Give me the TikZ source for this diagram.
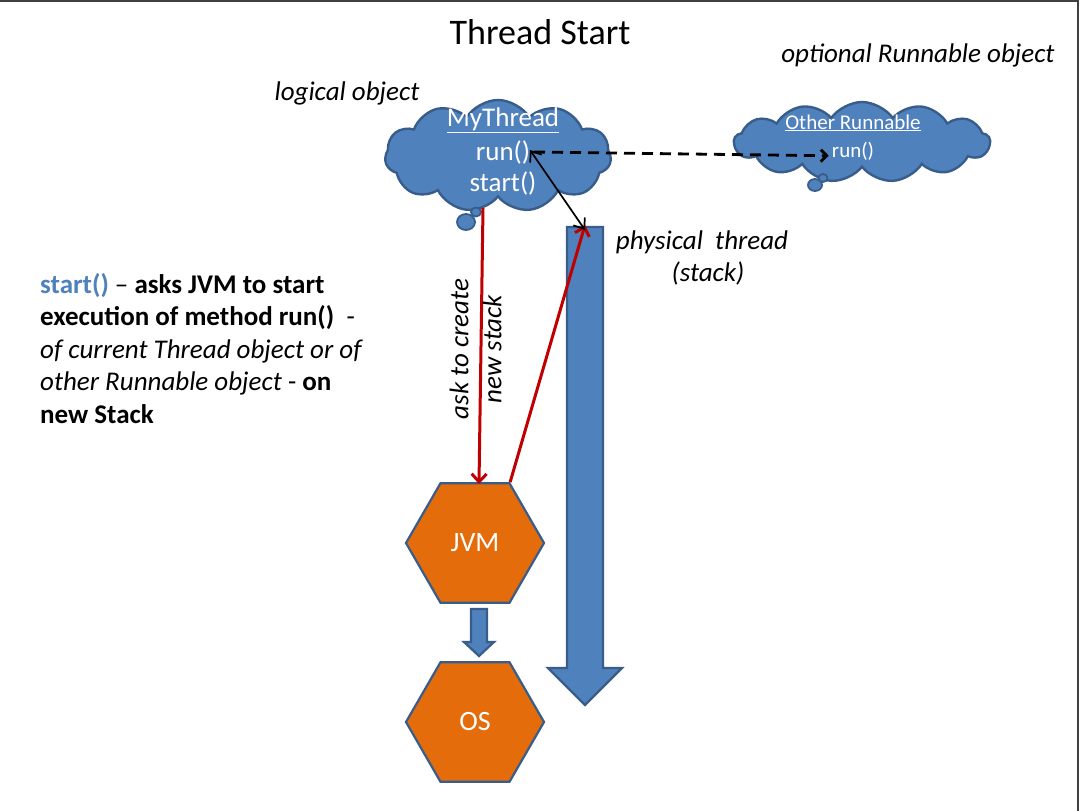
\documentclass[tikz,border=0pt]{standalone}
\usepackage{fontspec}
\setmainfont{Carlito}
\usetikzlibrary{shapes.symbols,shapes.geometric,arrows.meta}
\definecolor{ofblue}{HTML}{4F81BD}
\definecolor{ofedge}{HTML}{385D8A}
\definecolor{oforange}{HTML}{E46C0A}
\definecolor{ofred}{HTML}{C00000}
\definecolor{frameclr}{HTML}{404040}
\tikzset{
  cloudshape/.style={cloud, cloud ignores aspect, draw=ofedge, fill=ofblue, line width=2.4pt},
  bubble/.style={draw=ofedge, fill=ofblue, line width=1.8pt},
  hexshape/.style={regular polygon, regular polygon sides=6, minimum size=138pt, inner sep=0pt,
     draw=ofedge, fill=oforange, line width=2.2pt, text=white, font=\fontsize{28}{32}\selectfont},
  blockarrow/.style={draw=ofedge, fill=ofblue, line width=2.2pt, line join=miter},
  cloudtext/.style={text=white, inner sep=0pt, anchor=base},
  annot/.style={inner sep=0pt, anchor=base, font=\fontsize{27}{32}\selectfont\itshape},
  redarrow/.style={draw=ofred, line width=3pt, -{Straight Barb[length=8pt,width=15pt,line width=3pt]}},
}
\begin{document}
\begin{tikzpicture}[x=1pt,y=-1pt]
\useasboundingbox (0,0) rectangle (1080,811);
\fill[white] (0,0) rectangle (1080,811);
\draw[frameclr, line width=2pt] (0,1) -- (1078,1) -- (1078,811);

% title
\node[inner sep=0pt, anchor=base, font=\fontsize{36}{40}\selectfont] (title) at (540,44) {Thread Start};

% annotations
\node[annot] (logical) at (347,100) {logical object};
\node[annot] (optional) at (918,62) {optional Runnable object};
\node[annot] (physical) at (702,249) {physical\ \ thread};
\node[annot] (stacklbl) at (708,281) {(stack)};

% big cloud
\node[cloudshape, cloud puffs=11, cloud puff arc=115, minimum width=226pt, minimum height=112pt] (mythread) at (498,156) {};
\draw[bubble] (476,212) circle[x radius=5pt, y radius=4.5pt];
\draw[bubble] (466,222) circle[x radius=9pt, y radius=8pt];
\node[cloudtext, font=\fontsize{27}{31}\selectfont] (mtname) at (503,126) {\underline{MyThread}};
\node[cloudtext, font=\fontsize{27}{31}\selectfont] (mtrun) at (503,160) {run()};
\node[cloudtext, font=\fontsize{27}{31}\selectfont] (mtstart) at (503,191) {start()};

% small cloud
\node[cloudshape, cloud puffs=13, cloud puff arc=110, minimum width=256pt, minimum height=80pt] (other) at (862,142) {};
\draw[bubble] (823,178) circle[x radius=4.5pt, y radius=4pt];
\draw[bubble] (815,185) circle[x radius=7pt, y radius=6pt];
\node[cloudtext, font=\fontsize{21}{25}\selectfont] (orname) at (853,129) {\underline{Other Runnable}};
\node[cloudtext, font=\fontsize{21}{25}\selectfont] (orrun) at (853,157) {run()};

% stack (physical thread) arrow
\draw[blockarrow] (567,227) -- (603,227) -- (603,668) -- (622,668) -- (585,705) -- (548,668) -- (567,668) -- cycle;
\coordinate (stacktop) at (585,227);

% hexagons
\node[hexshape] (jvm) at (475,543) {JVM};
\node[hexshape] (os) at (475,722) {OS};
\draw[blockarrow] (471,609) -- (487,609) -- (487,642) -- (494,642) -- (479,656) -- (464,642) -- (471,642) -- cycle;

% red arrows
\coordinate (askstart) at (483,208);
\coordinate (jvmtop) at (479,484);
\draw[redarrow] (askstart) -- (jvmtop);
\draw[redarrow] (jvm.60) -- ([yshift=2pt]stacktop);

% rotated labels
\node[annot, anchor=center, rotate=90] (asklbl) at (459,349) {ask to create};
\node[annot, anchor=center, rotate=90] (newstack) at (492,349) {new stack};

% black double arrow
\coordinate (runright) at (530,150);
\draw[black, line width=1.7pt, {Straight Barb[length=9pt,width=14pt,line width=1.7pt]}-{Straight Barb[length=9pt,width=14pt,line width=1.7pt]}] (runright) -- ([yshift=-3pt]stacktop);

% dashed arrow
\coordinate (runright2) at (534,152);
\draw[black, line width=2.8pt, dash pattern=on 11pt off 7pt, -{Straight Barb[length=6pt,width=12pt,line width=2.8pt]}] (runright2) -- ([xshift=-3pt,yshift=-5pt]orrun.west);

% description
\node[anchor=north west, align=left, inner sep=0pt, font=\fontsize{27}{32.5}\selectfont] (desc) at (40,273)
 {\textcolor{ofblue}{\textbf{start()}} – \textbf{asks JVM to start}\\
  \textbf{execution of method run()}\ \ -\\
  \textit{of current Thread object or of}\\
  \textit{other Runnable object} - \textbf{on}\\
  \textbf{new Stack}};
\end{tikzpicture}
\end{document}
